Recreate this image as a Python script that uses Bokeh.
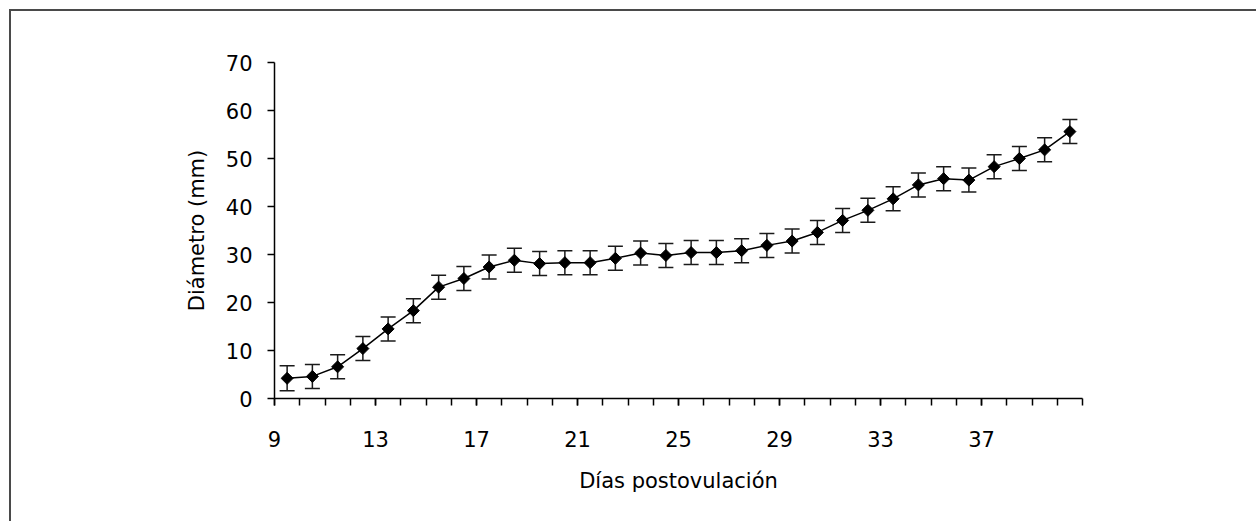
import math
from bokeh.plotting import figure
from bokeh.models import ColumnDataSource, Whisker, TeeHead, FixedTicker
from bokeh.embed import file_html
from bokeh.resources import INLINE

# ---- data ----
days = list(range(9, 41))
diametro = [4.2, 4.6, 6.6, 10.4, 14.5, 18.3, 23.2, 25.0, 27.4, 28.8,
            28.1, 28.3, 28.3, 29.2, 30.3, 29.8, 30.4, 30.4, 30.8, 31.9,
            32.8, 34.6, 37.1, 39.2, 41.6, 44.5, 45.8, 45.5, 48.3, 50.0,
            51.8, 55.6]
error = [2.6, 2.5, 2.5, 2.5, 2.5, 2.5, 2.5, 2.5, 2.5, 2.5,
         2.5, 2.5, 2.5, 2.5, 2.5, 2.5, 2.5, 2.5, 2.5, 2.5,
         2.5, 2.5, 2.5, 2.5, 2.5, 2.5, 2.5, 2.5, 2.5, 2.5,
         2.5, 2.5]
x_tick_labels = [9, 13, 17, 21, 25, 29, 33, 37]
y_ticks = [0, 10, 20, 30, 40, 50, 60, 70]

x_center = [d + 0.5 for d in days]
src = ColumnDataSource(dict(
    x=x_center, y=diametro,
    upper=[m + e for m, e in zip(diametro, error)],
    lower=[m - e for m, e in zip(diametro, error)],
))

FONT = "DejaVu Sans"

p = figure(width=1247, height=512, output_backend="svg", toolbar_location=None,
           x_range=(days[0], days[-1] + 1), y_range=(0, 70),
           min_border_left=263, min_border_top=51, min_border_right=176,
           min_border_bottom=125)
p.styles = {"border-left": "2px solid #4a4a4a", "border-top": "2px solid #4a4a4a",
            "margin-left": "9px", "margin-top": "9px"}
p.outline_line_color = None
p.xgrid.grid_line_color = None
p.ygrid.grid_line_color = None
p.background_fill_color = "white"
p.border_fill_color = "white"

# whiskers
w = Whisker(source=src, base="x", upper="upper", lower="lower",
            line_color="#1a1a1a", line_width=1.5,
            upper_head=TeeHead(size=15, line_color="#1a1a1a", line_width=1.5),
            lower_head=TeeHead(size=15, line_color="#1a1a1a", line_width=1.5))
p.add_layout(w)

p.line("x", "y", source=src, line_color="black", line_width=1.5)
p.scatter("x", "y", source=src, marker="square", angle=math.pi / 4, size=8.5,
          fill_color="black", line_color="black")

# axes
xa = p.xaxis[0]
xa.ticker = FixedTicker(ticks=x_tick_labels, minor_ticks=list(range(days[0], days[-1] + 2)))
xa.axis_label = "Días postovulación"
ya = p.yaxis[0]
ya.ticker = FixedTicker(ticks=y_ticks, minor_ticks=[])
ya.axis_label = "Diámetro (mm)"

for ax in (xa, ya):
    ax.axis_line_color = "black"
    ax.axis_line_width = 1.5
    ax.major_tick_line_color = "black"
    ax.minor_tick_line_color = "black"
    ax.major_tick_line_width = 1.5
    ax.minor_tick_line_width = 1.5
    ax.major_tick_in = 0
    ax.major_tick_out = 7
    ax.minor_tick_in = 0
    ax.minor_tick_out = 7
    ax.major_label_text_font = FONT
    ax.major_label_text_font_size = "21px"
    ax.major_label_text_color = "black"
    ax.axis_label_text_font = FONT
    ax.axis_label_text_font_size = "21px"
    ax.axis_label_text_font_style = "normal"
    ax.axis_label_text_color = "black"

xa.major_label_standoff = 25
xa.axis_label_standoff = 19
ya.major_label_standoff = 15
ya.axis_label_standoff = 14

open("out.html", "w").write(file_html(p, INLINE))
